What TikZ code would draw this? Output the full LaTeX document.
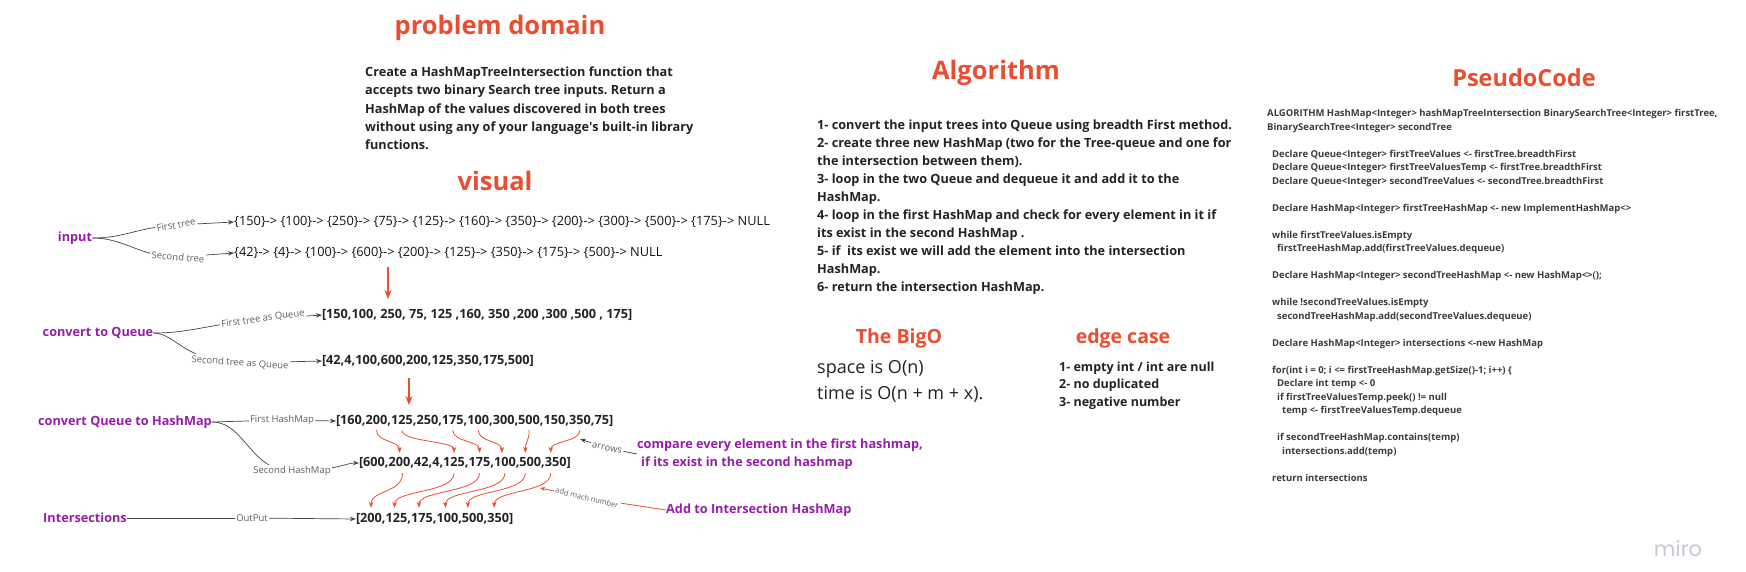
\documentclass[tikz,border=0pt]{standalone}
\usepackage{fontspec}
\setmainfont{Open Sans}
\newfontfamily\logofont{Poppins}
\usetikzlibrary{arrows.meta,backgrounds,calc}
\frenchspacing
\definecolor{tred}{RGB}{234,78,48}
\definecolor{purp}{RGB}{150,30,170}
\definecolor{txt}{RGB}{35,35,35}
\definecolor{chtxt}{RGB}{20,20,20}
\definecolor{ctxt}{RGB}{60,60,60}
\definecolor{gtxt}{RGB}{95,95,95}
\definecolor{lgray}{RGB}{70,70,70}
\definecolor{logo}{RGB}{200,200,212}
\newcommand\pcA{\hspace*{5pt}}
\newcommand\pcB{\hspace*{10pt}}
\newcommand\pcC{\hspace*{15pt}}
\tikzset{
 ttl/.style={font={\bfseries\fontsize{25.5}{30}\selectfont}, text=tred, inner sep=0pt},
 ttlb/.style={font={\bfseries\fontsize{19.5}{24}\selectfont}, text=tred, inner sep=0pt},
 body/.style={font={\bfseries\fontsize{12.7}{18}\selectfont}, text=txt, align=left, inner sep=0pt, anchor=north west},
 chaintxt/.style={font={\fontsize{12.8}{16}\selectfont}, text=chtxt, inner sep=0pt, anchor=west},
 lp/.style={font={\bfseries\fontsize{12.7}{16}\selectfont}, text=txt, inner sep=0pt, outer sep=0pt, text height=9.3pt, text depth=3pt},
 lnext/.style={lp, anchor=base west},
 plabel/.style={font={\bfseries\fontsize{12.7}{18}\selectfont}, text=purp, inner sep=0pt},
 glabel/.style={font={\fontsize{9.5}{11}\selectfont}, text=gtxt, fill=white, inner sep=1.5pt},
 conn/.style={draw=lgray, line width=0.7pt},
 tip/.style={-{Stealth[length=6pt,width=4.5pt]}},
 rbig/.style={draw=tred, line width=1.6pt, -{Stealth[length=9pt,width=7pt]}},
 rcurve/.style={draw=tred, line width=0.8pt, -{Stealth[length=6pt,width=4.5pt]}},
 rline/.style={draw=tred, line width=0.8pt},
}
\begin{document}
\begin{tikzpicture}[x=1pt,y=-1pt]
\useasboundingbox (0,0) rectangle (1746,572);

% ---------- problem domain ----------
\node[ttl] (pd) at (500,28) {problem domain};
\node[body, font={\bfseries\fontsize{12.7}{18.3}\selectfont}] (pdtext) at (365,66.5) {Create a HashMapTreeIntersection function that\\accepts two binary Search tree inputs. Return a\\HashMap of the values discovered in both trees\\without using any of your language\textquotesingle s built-in library\\functions.};
\node[ttl] (vis) at (495,181) {visual};

% ---------- Algorithm ----------
\node[ttl] (alg) at (996,73) {Algorithm};
\node[body] (algtext) at (817,119.5) {1- convert the input trees into Queue using breadth First method.\\2- create three new HashMap (two for the Tree-queue and one for\\the intersection between them).\\3- loop in the two Queue and dequeue it and add it to the\\HashMap.\\4- loop in the first HashMap and check for every element in it if\\its exist in the second HashMap .\\5- if\ \ its exist we will add the element into the intersection\\HashMap.\\6- return the intersection HashMap.};

% ---------- BigO / edge case ----------
\node[ttlb] (bigo) at (899,338) {The BigO};
\node[font={\fontsize{18}{26}\selectfont}, text=txt, align=left, inner sep=0pt, anchor=north west] (bigotext) at (817,360) {space is O(n)\\time is O(n + m + x).};
\node[ttlb] (edge) at (1123,338) {edge case};
\node[body, font={\bfseries\fontsize{12.5}{17.5}\selectfont}] (edgetext) at (1059,361.5) {1- empty int / int are null\\2- no duplicated\\3- negative number};

% ---------- PseudoCode ----------
\node[ttlb, font={\bfseries\fontsize{23.5}{28}\selectfont}] (pc) at (1524,78) {PseudoCode};
\node[body, text=ctxt, font={\bfseries\fontsize{9.5}{13.5}\selectfont}] (pcode) at (1267,109.5) {ALGORITHM HashMap<Integer> hashMapTreeIntersection BinarySearchTree<Integer> firstTree,\\
BinarySearchTree<Integer> secondTree\\[13.5pt]
\pcA Declare Queue<Integer> firstTreeValues <- firstTree.breadthFirst\\
\pcA Declare Queue<Integer> firstTreeValuesTemp <- firstTree.breadthFirst\\
\pcA Declare Queue<Integer> secondTreeValues <- secondTree.breadthFirst\\[13.5pt]
\pcA Declare HashMap<Integer> firstTreeHashMap <- new ImplementHashMap<>\\[13.5pt]
\pcA while firstTreeValues.isEmpty\\
\pcB firstTreeHashMap.add(firstTreeValues.dequeue)\\[13.5pt]
\pcA Declare HashMap<Integer> secondTreeHashMap <- new HashMap<>();\\[13.5pt]
\pcA while !secondTreeValues.isEmpty\\
\pcB secondTreeHashMap.add(secondTreeValues.dequeue)\\[13.5pt]
\pcA Declare HashMap<Integer> intersections <-new HashMap\\[13.5pt]
\pcA for(int i = 0; i <= firstTreeHashMap.getSize()-1; i++) \{\\
\pcB Declare int temp <- 0\\
\pcB if firstTreeValuesTemp.peek() != null\\
\pcC temp <- firstTreeValuesTemp.dequeue\\[13.5pt]
\pcB if secondTreeHashMap.contains(temp)\\
\pcC intersections.add(temp)\\[13.5pt]
\pcA return intersections};

% ---------- visual: input ----------
\node[plabel] (inp) at (75,238) {input};
\node[glabel, rotate=10] (ftl) at (176,225) {First tree};
\node[glabel, rotate=-5] (stl) at (178,257) {Second tree};
\node[chaintxt] (t1) at (234,222) {\{150\}-> \{100\}-> \{250\}-> \{75\}-> \{125\}-> \{160\}-> \{350\}-> \{200\}-> \{300\}-> \{500\}-> \{175\}-> NULL};
\node[chaintxt] (t2) at (234,253) {\{42\}-> \{4\}-> \{100\}-> \{600\}-> \{200\}-> \{125\}-> \{350\}-> \{175\}-> \{500\}-> NULL};
\coordinate (v1s) at (388,267);
\coordinate (v1e) at (388,299);

% ---------- visual: queue ----------
\node[plabel] (cq) at (98,333) {convert to Queue};
\node[glabel, rotate=8] (ftql) at (263,319) {First tree as Queue};
\node[glabel, rotate=-4] (stql) at (240,363) {Second tree as Queue};
\node[lp, anchor=west] (q1) at (322,315) {[150,100, 250, 75, 125 ,160, 350 ,200 ,300 ,500 , 175]};
\node[lp, anchor=west] (q2) at (322,361) {[42,4,100,600,200,125,350,175,500]};
\coordinate (v2s) at (409,378);
\coordinate (v2e) at (409,405);

% ---------- visual: hashmap ----------
\node[plabel] (cqh) at (125,422) {convert Queue to HashMap};
\node[glabel] (fhl) at (282,420) {First HashMap};
\node[glabel] (shl) at (292,471) {Second HashMap};
\node[lp, anchor=west] (h1) at (336,421) {[160,};
\node[lnext] (h1a) at (h1.base east) {200};
\node[lnext] (h1b) at (h1a.base east) {,};
\node[lnext] (h1c) at (h1b.base east) {125};
\node[lnext] (h1d) at (h1c.base east) {,250,};
\node[lnext] (h1e) at (h1d.base east) {175};
\node[lnext] (h1f) at (h1e.base east) {,};
\node[lnext] (h1g) at (h1f.base east) {100};
\node[lnext] (h1h) at (h1g.base east) {,300,};
\node[lnext] (h1i) at (h1h.base east) {500};
\node[lnext] (h1j) at (h1i.base east) {,150,};
\node[lnext] (h1k) at (h1j.base east) {350};
\node[lnext] (h1l) at (h1k.base east) {,75]};

\node[lp, anchor=west] (h2) at (359,463) {[600,};
\node[lnext] (h2a) at (h2.base east) {200};
\node[lnext] (h2b) at (h2a.base east) {,42,4,};
\node[lnext] (h2c) at (h2b.base east) {125};
\node[lnext] (h2d) at (h2c.base east) {,};
\node[lnext] (h2e) at (h2d.base east) {175};
\node[lnext] (h2f) at (h2e.base east) {,};
\node[lnext] (h2g) at (h2f.base east) {100};
\node[lnext] (h2h) at (h2g.base east) {,};
\node[lnext] (h2i) at (h2h.base east) {500};
\node[lnext] (h2j) at (h2i.base east) {,};
\node[lnext] (h2k) at (h2j.base east) {350};
\node[lnext] (h2l) at (h2k.base east) {]};

\node[plabel, align=left, anchor=west] (cmp) at (637,454) {compare every element in the first hashmap,\\\hspace*{4pt}if its exist in the second hashmap};
\node[glabel, rotate=-12] (arl) at (607,448) {arrows};
\coordinate (are) at (580,439);

% ---------- visual: intersections ----------
\node[plabel] (ints) at (85,518) {Intersections};
\node[glabel] (outl) at (252,518) {OutPut};
\node[lp, anchor=west] (i1) at (356,519) {[};
\node[lnext] (i1a) at (i1.base east) {200};
\node[lnext] (i1b) at (i1a.base east) {,};
\node[lnext] (i1c) at (i1b.base east) {125};
\node[lnext] (i1d) at (i1c.base east) {,};
\node[lnext] (i1e) at (i1d.base east) {175};
\node[lnext] (i1f) at (i1e.base east) {,};
\node[lnext] (i1g) at (i1f.base east) {100};
\node[lnext] (i1h) at (i1g.base east) {,};
\node[lnext] (i1i) at (i1h.base east) {500};
\node[lnext] (i1j) at (i1i.base east) {,};
\node[lnext] (i1k) at (i1j.base east) {350};
\node[lnext] (i1l) at (i1k.base east) {]};

\node[plabel, anchor=west] (addn) at (666,510) {Add to Intersection HashMap};
\node[glabel, rotate=-14, font={\fontsize{7.5}{9}\selectfont}] (aml) at (587,498) {add mach number};
\coordinate (ame) at (540,488);

% ---------- logo ----------
\node[font={\logofont\fontsize{21}{24}\selectfont}, text=logo, inner sep=0pt] (miro) at (1678,549) {miro};

% ---------- connectors (behind labels) ----------
\begin{scope}[on background layer]
\fill[white] (0,0) rectangle (1746,572);
\draw[conn] (inp.east) .. controls (125,238) and (135,228) .. (ftl.center);
\draw[conn,tip] (ftl.center) -- (t1.west);
\draw[conn] (inp.east) .. controls (125,238) and (140,257) .. (stl.center);
\draw[conn,tip] (stl.center) -- (t2.west);

\draw[conn] (cq.east) .. controls (190,333) and (205,325) .. (ftql.center);
\draw[conn,tip] (ftql.center) -- (q1.west);
\draw[conn] (cq.east) .. controls (175,333) and (185,362) .. (stql.center);
\draw[conn,tip] (stql.center) -- (q2.west);

\draw[conn] (cqh.east) -- (fhl.center);
\draw[conn,tip] (fhl.center) -- (h1.west);
\draw[conn] (cqh.east) .. controls (245,422) and (250,471) .. (shl.center);
\draw[conn,tip] (shl.center) .. controls (340,470) and (345,463) .. (h2.west);

\draw[conn] (ints.east) -- (outl.center);
\draw[conn,tip] (outl.center) -- (i1.west);

\draw[conn,tip] (cmp.west) -- (arl.center) -- (are);
\draw[rline,-{Stealth[length=5pt,width=4pt]}] (addn.west) -- (aml.center) -- (ame);
\end{scope}

% ---------- red arrows ----------
\draw[rbig] (v1s) -- (v1e);
\draw[rbig] (v2s) -- (v2e);

\draw[rcurve] ($(h1a.south)+(0,3)$) .. controls +(0,12) and +(0,-12) .. ($(h2a.north)+(0,-4)$);
\draw[rcurve] ($(h1c.south)+(0,3)$) .. controls +(0,12) and +(0,-12) .. ($(h2c.north)+(0,-4)$);
\draw[rcurve] ($(h1e.south)+(0,3)$) .. controls +(0,12) and +(0,-12) .. ($(h2e.north)+(0,-4)$);
\draw[rcurve] ($(h1g.south)+(0,3)$) .. controls +(0,12) and +(0,-12) .. ($(h2g.north)+(-3,-4)$);
\draw[rcurve] ($(h1i.south)+(0,3)$) .. controls +(0,12) and +(0,-12) .. ($(h2i.north)+(-5,-4)$);
\draw[rcurve] ($(h1k.south)+(0,3)$) .. controls +(0,12) and +(0,-12) .. ($(h2k.north)+(-5,-4)$);

\draw[rcurve] ($(h2a.south)+(3,4)$) .. controls +(0,20) and +(0,-18) .. ($(i1a.north)+(0,-5)$);
\draw[rcurve] ($(h2c.south)+(0,4)$) .. controls +(0,20) and +(0,-18) .. ($(i1c.north)+(-2,-5)$);
\draw[rcurve] ($(h2e.south)+(0,4)$) .. controls +(0,20) and +(0,-18) .. ($(i1e.north)+(-3,-5)$);
\draw[rcurve] ($(h2g.south)+(0,4)$) .. controls +(0,20) and +(0,-18) .. ($(i1g.north)+(-2,-5)$);
\draw[rcurve] ($(h2i.south)+(-5,4)$) .. controls +(0,20) and +(0,-18) .. ($(i1i.north)+(-5,-5)$);
\draw[rcurve] ($(h2k.south)+(-5,4)$) .. controls +(0,20) and +(0,-18) .. ($(i1k.north)+(-4,-5)$);
\end{tikzpicture}
\end{document}
